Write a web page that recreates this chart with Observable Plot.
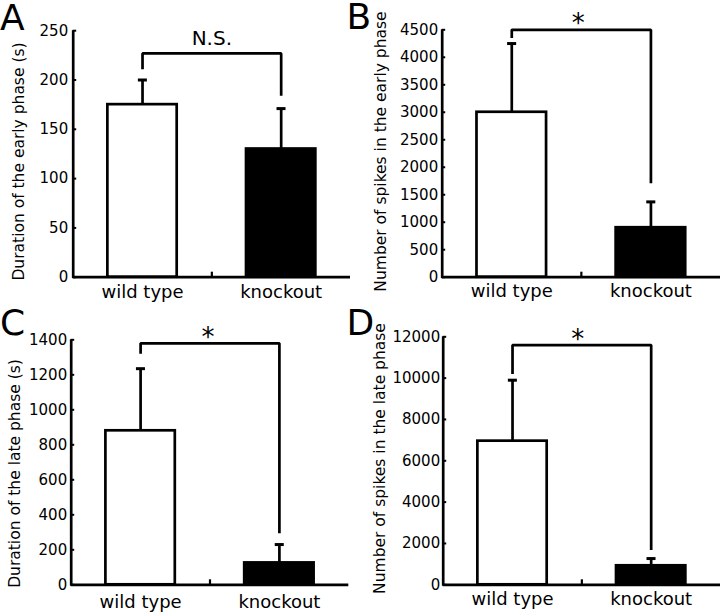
<!DOCTYPE html>
<html>
<head>
<meta charset="utf-8">
<script src="https://cdn.jsdelivr.net/npm/d3@7"></script>
<script src="https://cdn.jsdelivr.net/npm/@observablehq/plot@0.6"></script>
<style>
  body { margin: 0; background: #fff; }
  #fig { position: relative; width: 720px; height: 614px; overflow: hidden; font-family: "DejaVu Sans"; background: #fff; }
  .panel { position: absolute; width: 360px; height: 307px; }
  #letters { position: absolute; left: 0; top: 0; pointer-events: none; }
</style>
</head>
<body>
<div id="fig"></div>
<script>
// ---- data ----
const groups = ["wild type", "knockout"];
const panelLetters = ["A", "B", "C", "D"];
const yLabels = [
  "Duration of the early phase (s)",
  "Number of spikes in the early phase",
  "Duration of the late phase (s)",
  "Number of spikes in the late phase"
];
const earlyDurationMean = [175, 130];
const earlyDurationErr = [200, 171];
const earlySpikesMean = [3000, 900];
const earlySpikesErr = [4250, 1370];
const lateDurationMean = [880, 125];
const lateDurationErr = [1235, 230];
const lateSpikesMean = [6950, 920];
const lateSpikesErr = [9900, 1270];
const yMax = [250, 4500, 1400, 12000];
const yTicksA = [0, 50, 100, 150, 200, 250];
const yTicksB = [0, 500, 1000, 1500, 2000, 2500, 3000, 3500, 4000, 4500];
const yTicksC = [0, 200, 400, 600, 800, 1000, 1200, 1400];
const yTicksD = [0, 2000, 4000, 6000, 8000, 10000, 12000];
const significance = ["N.S.", "*", "*", "*"];
const bracketTop = [227, 4500, 1380, 11600];
const bracketLegLeft = [211, 4350, 1320, 10200];
const bracketLegRight = [184, 1710, 295, 1680];
const sigLabelY = [241.5, 4610, 1414, 11855];

// ---- layout (style) ----
const layouts = [
  {left: 0,   top: 0,   ml: 72.7, mr: 10,   mt: 30.2, mb: 30.3, tp: 5, xdy: 15.5, lx: 19, ly: 161, sigSize: 20, sigDx: 0},
  {left: 360, top: 0,   ml: 81.7, mr: 0,    mt: 29.3, mb: 30.3, tp: 4, xdy: 14.5, lx: 21, ly: 151, sigSize: 26, sigDx: -3},
  {left: 0,   top: 307, ml: 70.7, mr: 11.7, mt: 32.3, mb: 29.7, tp: 4, xdy: 17,   lx: 15, ly: 166, sigSize: 26, sigDx: -2},
  {left: 360, top: 307, ml: 82.7, mr: 0,    mt: 29.3, mb: 29.7, tp: 3, xdy: 14.5, lx: 20, ly: 151, sigSize: 26, sigDx: -4}
];
const means = [earlyDurationMean, earlySpikesMean, lateDurationMean, lateSpikesMean];
const errs = [earlyDurationErr, earlySpikesErr, lateDurationErr, lateSpikesErr];
const ticksAll = [yTicksA, yTicksB, yTicksC, yTicksD];
const barFills = ["white", "black"];

function makePanel(i) {
  const L = layouts[i];
  const data = groups.map((g, j) => ({group: g, pos: 2 * j + 1, mean: means[i][j], err: errs[i][j], fill: barFills[j]}));
  const nX = 2 * groups.length;
  const mid = groups.length;
  const frameW = 360 - L.ml - L.mr;
  const frameH = 307 - L.mt - L.mb;
  const bracket = [
    {x: data[0].pos, y: bracketLegLeft[i]},
    {x: data[0].pos, y: bracketTop[i]},
    {x: data[1].pos, y: bracketTop[i]},
    {x: data[1].pos, y: bracketLegRight[i]}
  ];
  const sw = 2.7;
  return Plot.plot({
    width: 360,
    height: 307,
    marginLeft: L.ml, marginRight: L.mr, marginTop: L.mt, marginBottom: L.mb,
    x: {domain: [0, nX], axis: null},
    y: {domain: [0, yMax[i]]},
    color: {type: "identity"},
    style: {fontFamily: "DejaVu Sans", fontSize: "15px", background: "white", color: "black", overflow: "visible"},
    marks: [
      Plot.rectY(data, {x1: d => d.pos - 0.5, x2: d => d.pos + 0.5, y1: 0, y2: "mean", fill: "fill", stroke: "black", strokeWidth: sw}),
      Plot.ruleX(data, {x: "pos", y1: "mean", y2: "err", stroke: "black", strokeWidth: sw}),
      Plot.ruleY(data, {y: "err", x1: d => d.pos - 0.06, x2: d => d.pos + 0.07, stroke: "black", strokeWidth: 3}),
      Plot.ruleX([0], {stroke: "black", strokeWidth: sw, insetBottom: -1.3}),
      Plot.ruleY([0], {stroke: "black", strokeWidth: sw}),
      Plot.tickY(ticksAll[i], {y: d => d, insetRight: frameW - 3.5, stroke: "black", strokeWidth: 2}),
      Plot.tickX([mid], {x: d => d, insetTop: frameH - 5, stroke: "black", strokeWidth: 2.2}),
      Plot.axisY({ticks: ticksAll[i], tickSize: 0, tickPadding: L.tp, label: null, fontSize: 15, tickFormat: d => String(d)}),
      Plot.text(data, {x: "pos", text: "group", frameAnchor: "bottom", lineAnchor: "middle", dy: L.xdy, fontSize: 18, fill: "black"}),
      Plot.line(bracket, {x: "x", y: "y", stroke: "black", strokeWidth: sw, strokeLinejoin: "miter", strokeLinecap: "butt"}),
      Plot.text([significance[i]], {x: () => mid, y: () => sigLabelY[i], text: d => d, fontSize: L.sigSize, dx: L.sigDx, fill: "black", lineAnchor: "middle"}),
      Plot.text([yLabels[i]], {frameAnchor: "top-left", textAnchor: "middle", lineAnchor: "middle", dx: L.lx - L.ml, dy: L.ly - L.mt, rotate: -90, text: d => d, fontSize: 15.5, fill: "black"})
    ]
  });
}

const fig = document.getElementById("fig");
layouts.forEach((L, i) => {
  const div = document.createElement("div");
  div.className = "panel";
  div.style.left = L.left + "px";
  div.style.top = L.top + "px";
  div.appendChild(makePanel(i));
  fig.appendChild(div);
});

// panel letters
const letterPos = [[0, 30], [346.5, 28.5], [0, 335], [346.5, 335]];
const overlay = d3.select(fig).append("svg")
  .attr("id", "letters").attr("width", 720).attr("height", 614);
overlay.selectAll("text").data(panelLetters).join("text")
  .attr("x", (d, i) => letterPos[i][0])
  .attr("y", (d, i) => letterPos[i][1])
  .attr("font-family", "DejaVu Sans")
  .attr("font-size", 36)
  .attr("fill", "black")
  .text(d => d);
</script>
</body>
</html>
